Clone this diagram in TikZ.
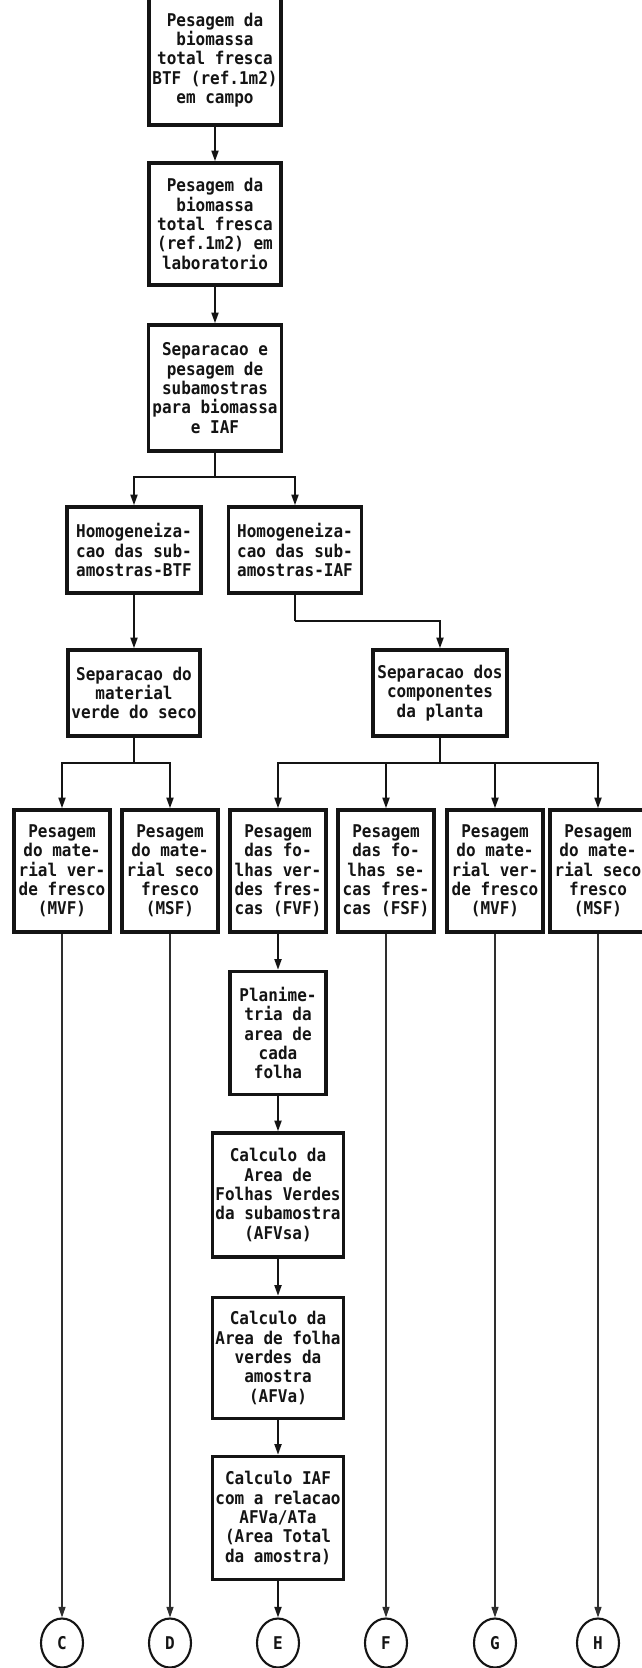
\documentclass[tikz,border=0pt]{standalone}
\usepackage{fontspec}
\newfontfamily\dotmono[FakeStretch=0.91]{DejaVu Sans Mono}
\usetikzlibrary{arrows.meta,shapes.geometric}
\definecolor{FlowInk}{HTML}{141414}
\definecolor{FlowLine}{HTML}{2E2E2E}

\begin{document}
\begin{tikzpicture}[
  x=0.03cm,y=-0.03cm,
  flow/.style={
    -{Triangle[length=9pt,width=6pt]},
    line width=1.5pt,
    draw=FlowInk
  },
  longflow/.style={
    -{Triangle[length=9pt,width=6pt]},
    line width=0.9pt,
    draw=FlowLine
  },
  link/.style={
    line width=1.5pt,
    draw=FlowInk
  },
  procbox/.style={
    draw=FlowInk,
    line width=3.1pt,
    fill=white,
    align=center,
    inner sep=0pt,
    font=\dotmono\bfseries\fontsize{15}{16.5}\selectfont,
    text=FlowInk
  },
  widebox/.style={
    procbox,
    minimum width=3.96cm
  },
  narrowbox/.style={
    procbox,
    minimum width=2.88cm,
    minimum height=3.66cm
  },
  tagcircle/.style={
    ellipse,
    draw=FlowInk,
    line width=1.8pt,
    minimum width=1.26cm,
    minimum height=1.47cm,
    inner sep=0pt,
    font=\dotmono\bfseries\fontsize{15}{16.5}\selectfont,
    text=FlowInk
  }
]
\useasboundingbox (0,0) rectangle (642,1668);

% -------------------------------------------------
% Biomassa total
% -------------------------------------------------
\node[widebox, minimum height=3.9cm] (campo) at (215,60)
{Pesagem da\\biomassa\\total fresca\\BTF (ref.1m2)\\em campo};

\node[widebox, minimum height=3.66cm] (lab) at (215,224)
{Pesagem da\\biomassa\\total fresca\\(ref.1m2) em\\laboratorio};

\node[widebox, minimum width=3.99cm, minimum height=3.78cm] (subam) at (215,388)
{Separacao e\\pesagem de\\subamostras\\para biomassa\\e IAF};

\draw[flow] (campo) -- (lab);
\draw[flow] (lab) -- (subam);

% -------------------------------------------------
% Homogeneizacao
% -------------------------------------------------
\coordinate (jsub) at (215,477);

\node[widebox, minimum width=4.02cm, minimum height=2.58cm] (homBTF) at (134,550)
{Homogeneiza-\\cao das sub-\\amostras-BTF};

\node[widebox, minimum width=3.99cm, minimum height=2.58cm] (homIAF) at (295,550)
{Homogeneiza-\\cao das sub-\\amostras-IAF};

\draw[link] (subam.south) -- (jsub);
\draw[flow] (jsub) -| (homBTF.north);
\draw[flow] (jsub) -| (homIAF.north);

% -------------------------------------------------
% Separacao
% -------------------------------------------------
\node[widebox, minimum height=2.58cm] (sepVS) at (134,693)
{Separacao do\\material\\verde do seco};

\node[widebox, minimum width=4.02cm, minimum height=2.58cm] (sepComp) at (440,693)
{Separacao dos\\componentes\\da planta};

\coordinate (bendIAF) at (295,621);

\draw[flow] (homBTF) -- (sepVS);
\draw[link] (homIAF.south) -- (bendIAF);
\draw[flow] (bendIAF) -| (sepComp.north);

% -------------------------------------------------
% Pesagens
% -------------------------------------------------
\coordinate (jVS) at (134,763);
\coordinate (jComp) at (440,763);

\node[narrowbox] (mvfA) at (62,871)
{Pesagem\\do mate-\\rial ver-\\de fresco\\(MVF)};
\node[narrowbox] (msfA) at (170,871)
{Pesagem\\do mate-\\rial seco\\fresco\\(MSF)};
\node[narrowbox] (fvf) at (278,871)
{Pesagem\\das fo-\\lhas ver-\\des fres-\\cas (FVF)};
\node[narrowbox] (fsf) at (386,871)
{Pesagem\\das fo-\\lhas se-\\cas fres-\\cas (FSF)};
\node[narrowbox] (mvfB) at (495,871)
{Pesagem\\do mate-\\rial ver-\\de fresco\\(MVF)};
\node[narrowbox] (msfB) at (598,871)
{Pesagem\\do mate-\\rial seco\\fresco\\(MSF)};

\draw[link] (sepVS.south) -- (jVS);
\draw[flow] (jVS) -| (mvfA.north);
\draw[flow] (jVS) -| (msfA.north);

\draw[link] (sepComp.south) -- (jComp);
\draw[flow] (jComp) -| (fvf.north);
\draw[flow] (jComp) -| (fsf.north);
\draw[flow] (jComp) -| (mvfB.north);
\draw[flow] (jComp) -| (msfB.north);

% -------------------------------------------------
% Area foliar
% -------------------------------------------------
\node[narrowbox, minimum height=3.69cm] (plan) at (278,1033)
{Planime-\\tria da\\area de\\cada\\folha};

\node[widebox, minimum width=3.93cm, minimum height=3.72cm] (afvsa) at (278,1195)
{Calculo da\\Area de\\Folhas Verdes\\da subamostra\\(AFVsa)};

\node[widebox, minimum width=3.93cm, minimum height=3.63cm] (afva) at (278,1358)
{Calculo da\\Area de folha\\verdes da\\amostra\\(AFVa)};

\node[widebox, minimum width=3.93cm, minimum height=3.69cm] (iaf) at (278,1518)
{Calculo IAF\\com a relacao\\AFVa/ATa\\(Area Total\\da amostra)};

\draw[flow] (fvf) -- (plan);
\draw[flow] (plan) -- (afvsa);
\draw[flow] (afvsa) -- (afva);
\draw[flow] (afva) -- (iaf);

% -------------------------------------------------
% Conectores
% -------------------------------------------------
\node[tagcircle] (cC) at (62,1643) {C};
\node[tagcircle] (cD) at (170,1643) {D};
\node[tagcircle] (cE) at (278,1643) {E};
\node[tagcircle] (cF) at (386,1643) {F};
\node[tagcircle] (cG) at (495,1643) {G};
\node[tagcircle] (cH) at (598,1643) {H};

\draw[longflow] (mvfA) -- (cC);
\draw[longflow] (msfA) -- (cD);
\draw[flow] (iaf) -- (cE);
\draw[longflow] (fsf) -- (cF);
\draw[longflow] (mvfB) -- (cG);
\draw[longflow] (msfB) -- (cH);

\end{tikzpicture}
\end{document}
